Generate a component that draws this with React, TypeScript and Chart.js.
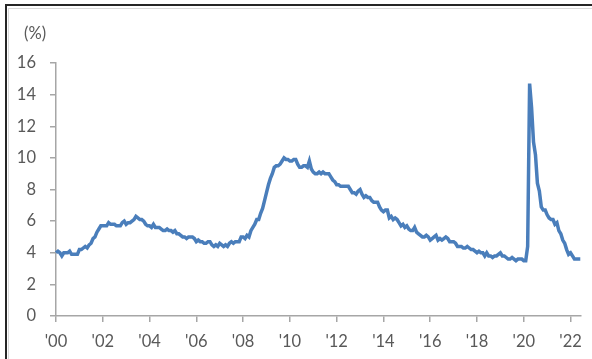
import React, { useEffect, useRef } from "react";
import { Chart, registerables } from "chart.js";

Chart.register(...registerables);

const START_YEAR = 2000;

// US unemployment rate (%), monthly, Jan 2000 - Jun 2022
const unemploymentRate: number[] = [
  4.0, 4.1, 4.0, 3.8, 4.0, 4.0, 4.0, 4.1, 3.9, 3.9, 3.9, 3.9,
  4.2, 4.2, 4.3, 4.4, 4.3, 4.5, 4.6, 4.9, 5.0, 5.3, 5.5, 5.7,
  5.7, 5.7, 5.7, 5.9, 5.8, 5.8, 5.8, 5.7, 5.7, 5.7, 5.9, 6.0,
  5.8, 5.9, 5.9, 6.0, 6.1, 6.3, 6.2, 6.1, 6.1, 6.0, 5.8, 5.7,
  5.7, 5.6, 5.8, 5.6, 5.6, 5.6, 5.5, 5.4, 5.4, 5.5, 5.4, 5.4,
  5.3, 5.4, 5.2, 5.2, 5.1, 5.0, 5.0, 4.9, 5.0, 5.0, 5.0, 4.9,
  4.7, 4.8, 4.7, 4.7, 4.6, 4.6, 4.7, 4.7, 4.5, 4.4, 4.5, 4.4,
  4.6, 4.5, 4.4, 4.5, 4.4, 4.6, 4.7, 4.6, 4.7, 4.7, 4.7, 5.0,
  5.0, 4.9, 5.1, 5.0, 5.4, 5.6, 5.8, 6.1, 6.1, 6.5, 6.8, 7.3,
  7.8, 8.3, 8.7, 9.0, 9.4, 9.5, 9.5, 9.6, 9.8, 10.0, 9.9, 9.9,
  9.8, 9.8, 9.9, 9.9, 9.6, 9.4, 9.4, 9.5, 9.5, 9.4, 9.8, 9.3,
  9.1, 9.0, 9.0, 9.1, 9.0, 9.1, 9.0, 9.0, 9.0, 8.8, 8.6, 8.5,
  8.3, 8.3, 8.2, 8.2, 8.2, 8.2, 8.2, 8.0, 7.8, 7.8, 7.7, 7.9,
  8.0, 7.7, 7.5, 7.6, 7.5, 7.5, 7.3, 7.2, 7.2, 7.2, 6.9, 6.7,
  6.6, 6.7, 6.7, 6.2, 6.3, 6.1, 6.2, 6.1, 5.9, 5.7, 5.8, 5.6,
  5.7, 5.5, 5.4, 5.4, 5.6, 5.3, 5.2, 5.1, 5.0, 5.0, 5.1, 5.0,
  4.8, 4.9, 5.0, 5.1, 4.8, 4.9, 4.8, 4.9, 5.0, 4.9, 4.7, 4.7,
  4.7, 4.6, 4.4, 4.4, 4.4, 4.3, 4.3, 4.4, 4.3, 4.2, 4.2, 4.1,
  4.0, 4.1, 4.0, 4.0, 3.8, 4.0, 3.8, 3.8, 3.7, 3.8, 3.8, 3.9,
  4.0, 3.8, 3.8, 3.7, 3.6, 3.6, 3.7, 3.6, 3.5, 3.6, 3.6, 3.6,
  3.5, 3.5, 4.4, 14.7, 13.2, 11.0, 10.2, 8.4, 7.9, 6.9, 6.7, 6.7,
  6.4, 6.2, 6.1, 6.1, 5.8, 5.9, 5.4, 5.2, 4.8, 4.6, 4.2, 3.9,
  4.0, 3.8, 3.6, 3.6, 3.6, 3.6,
];

const xTickLabels: string[] = [
  "'00", "'02", "'04", "'06", "'08", "'10", "'12", "'14", "'16", "'18", "'20", "'22",
];

const yTickValues: number[] = [0, 2, 4, 6, 8, 10, 12, 14, 16];

const unitLabel = "(%)";

const months: string[] = unemploymentRate.map((_, i) => {
  const y = START_YEAR + Math.floor(i / 12);
  const m = (i % 12) + 1;
  return `${y}-${m < 10 ? "0" + m : m}`;
});

const FONT = "Lato, 'Open Sans', sans-serif";
const TEXT = "#595959";
const AXIS = "#a6a6a6";

export default function App() {
  const ref = useRef<HTMLCanvasElement | null>(null);

  useEffect(() => {
    if (!ref.current) return;
    const unitPlugin = {
      id: "unitLabel",
      afterDraw(chart: any) {
        const ctx = chart.ctx;
        ctx.save();
        ctx.font = `16.5px ${FONT}`;
        ctx.fillStyle = TEXT;
        ctx.textAlign = "left";
        ctx.textBaseline = "middle";
        ctx.fillText(unitLabel, chart.chartArea.left - 32, chart.chartArea.top - 29);
        ctx.restore();
      },
    };
    const chart = new Chart(ref.current, {
      type: "line",
      data: {
        labels: months,
        datasets: [
          {
            data: unemploymentRate,
            borderColor: "#4a7ebb",
            borderWidth: 3.5,
            pointRadius: 0,
            tension: 0,
            fill: false,
          },
        ],
      },
      options: {
        responsive: false,
        animation: false,
        devicePixelRatio: 1,
        layout: { padding: { top: 63, right: 11, left: 0, bottom: 0 } },
        plugins: { legend: { display: false }, tooltip: { enabled: false } },
        scales: {
          x: {
            type: "category",
            offset: false,
            afterFit: (s: any) => {
              s.height = 43;
            },
            border: { display: true, color: AXIS, width: 1.5 },
            grid: {
              display: true,
              drawOnChartArea: false,
              drawTicks: true,
              tickLength: 6,
              color: AXIS,
              lineWidth: 1.5,
            },
            ticks: {
              autoSkip: false,
              maxRotation: 0,
              minRotation: 0,
              padding: 10,
              color: TEXT,
              font: { family: FONT, size: 16.5 },
              callback: (_v: any, idx: number) =>
                idx % 24 === 0 ? xTickLabels[idx / 24] : null,
            },
          },
          y: {
            min: yTickValues[0],
            max: yTickValues[yTickValues.length - 1],
            afterFit: (s: any) => {
              s.width = 56;
            },
            border: { display: true, color: AXIS, width: 1.5 },
            grid: {
              display: true,
              drawOnChartArea: false,
              drawTicks: true,
              tickLength: 6,
              color: AXIS,
              lineWidth: 1.5,
            },
            ticks: {
              stepSize: 2,
              padding: 14,
              color: TEXT,
              font: { family: FONT, size: 16.5 },
            },
          },
        },
      },
      plugins: [unitPlugin],
    });
    return () => chart.destroy();
  }, []);

  return (
    <div style={{ position: "fixed", left: 0, top: 0, width: 592, height: 359, background: "#fff", overflow: "hidden" }}>
      <div
        style={{
          position: "absolute",
          left: 5,
          top: 4,
          width: 700,
          height: 500,
          borderTop: "2px solid #262626",
          borderLeft: "2px solid #262626",
        }}
      />
      <div
        style={{
          position: "absolute",
          left: 8,
          top: 8,
          width: 700,
          height: 500,
          borderTop: "1px solid #d9d9d9",
          borderLeft: "1px solid #d9d9d9",
        }}
      />
      <canvas ref={ref} width={592} height={359} style={{ position: "absolute", left: 0, top: 0 }} />
    </div>
  );
}
